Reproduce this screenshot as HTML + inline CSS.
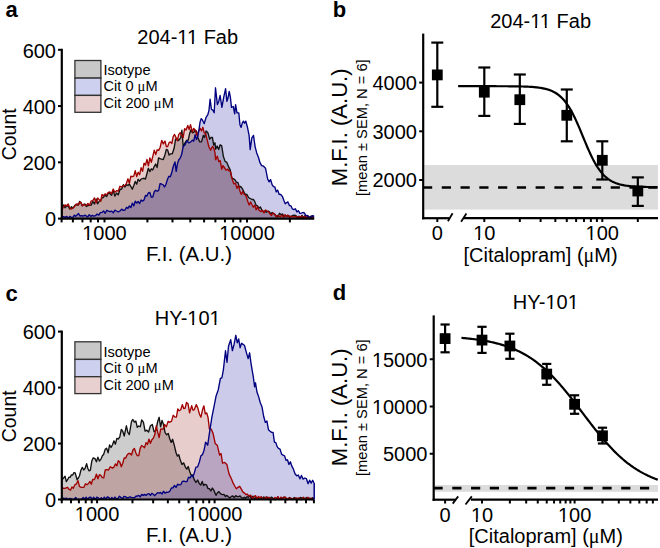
<!DOCTYPE html>
<html><head><meta charset="utf-8"><style>html,body{margin:0;padding:0;background:#fff;overflow:hidden}svg{display:block}</style></head>
<body><svg width="660" height="548" viewBox="0 0 660 548" font-family='"Liberation Sans", sans-serif' fill="#000">
<rect width="660" height="548" fill="#fff"/>
<text x="5.60" y="17.30" font-size="22" text-anchor="start" font-weight="bold" >a</text>
<text x="332.80" y="17.30" font-size="22" text-anchor="start" font-weight="bold" >b</text>
<text x="5.60" y="300.60" font-size="22" text-anchor="start" font-weight="bold" >c</text>
<text x="332.80" y="300.10" font-size="22" text-anchor="start" font-weight="bold" >d</text>
<path d="M62.00,206.50 L63.53,204.87 L65.07,207.77 L66.60,206.00 L68.22,206.11 L69.85,209.08 L71.47,206.75 L73.10,208.00 L74.43,205.73 L75.77,204.68 L77.10,205.00 L78.40,204.94 L79.70,201.35 L81.00,203.00 L82.33,205.89 L83.65,204.34 L84.97,204.03 L86.30,206.50 L87.92,205.58 L89.55,205.37 L91.17,205.14 L92.80,201.50 L94.45,203.94 L96.10,198.98 L97.75,203.74 L99.40,201.00 L100.70,200.37 L102.00,197.81 L103.30,197.50 L104.95,195.01 L106.60,196.64 L108.25,193.11 L109.90,193.50 L111.55,195.36 L113.20,190.35 L114.85,196.10 L116.50,193.00 L118.23,194.89 L119.97,189.52 L121.70,189.00 L123.35,184.69 L125.00,187.00 L126.47,184.62 L127.93,185.49 L129.40,184.10 L130.87,186.55 L132.33,189.23 L133.80,185.50 L135.25,181.47 L136.70,184.15 L138.15,179.30 L139.60,181.10 L141.06,179.11 L142.52,178.72 L143.98,178.27 L145.44,179.13 L146.90,173.80 L148.36,168.29 L149.82,171.57 L151.28,168.89 L152.74,169.93 L154.20,166.50 L155.66,164.00 L157.12,167.43 L158.58,157.87 L160.04,158.69 L161.50,159.20 L163.25,159.56 L165.00,154.70 L166.35,149.39 L167.70,150.10 L169.10,155.08 L170.50,153.80 L172.30,153.71 L174.10,148.30 L175.50,139.54 L176.90,138.30 L178.25,140.66 L179.60,139.20 L180.75,137.65 L181.90,130.10 L183.20,146.50 L185.05,142.75 L186.90,140.10 L188.25,140.14 L189.60,133.70 L191.00,129.77 L192.40,132.80 L193.75,132.28 L195.10,130.10 L196.45,131.00 L197.80,137.40 L199.65,141.79 L201.50,141.90 L203.30,135.50 L204.70,137.31 L206.10,131.00 L207.90,132.80 L209.70,139.20 L211.05,137.50 L212.40,137.40 L213.70,145.05 L215.00,142.80 L215.60,149.30 L217.12,145.94 L218.65,149.45 L220.17,144.80 L221.70,145.80 L223.40,156.59 L225.10,161.40 L226.83,162.39 L228.57,166.67 L230.30,170.10 L231.60,177.43 L232.90,178.70 L234.65,179.33 L236.40,182.20 L237.83,182.50 L239.27,186.81 L240.70,186.50 L242.45,188.91 L244.20,192.60 L245.50,194.72 L246.80,194.30 L248.53,197.54 L250.27,198.51 L252.00,199.50 L253.38,199.34 L254.76,201.63 L256.14,205.26 L257.52,205.79 L258.90,208.20 L260.42,206.90 L261.95,210.35 L263.48,211.73 L265.00,210.90 L266.43,212.29 L267.86,211.16 L269.29,211.73 L270.71,213.92 L272.14,212.54 L273.57,213.52 L275.00,214.50 L276.50,216.50 L278.00,216.76 L279.50,213.32 L281.00,214.75 L282.50,213.94 L284.00,216.73 L285.50,215.17 L287.00,216.39 L288.50,215.67 L290.00,216.50 L291.50,216.32 L293.00,215.37 L294.50,215.12 L296.00,215.68 L297.50,218.14 L299.00,216.24 L300.50,217.92 L302.00,215.39 L303.50,217.75 L305.00,215.64 L306.50,218.54 L308.00,216.78 L309.50,218.60 L311.00,216.02 L312.50,216.06 L314.00,217.50 L314.00,218.60 L62.00,218.60 Z" fill="#000000" fill-opacity="0.196" stroke="none"/>
<path d="M62.00,210.00 L63.53,206.81 L65.07,204.90 L66.60,205.80 L68.22,204.00 L69.85,208.07 L71.47,208.95 L73.10,207.80 L74.43,206.96 L75.77,204.31 L77.10,203.80 L78.40,205.00 L79.70,202.14 L81.00,202.50 L82.33,205.64 L83.65,204.49 L84.97,205.11 L86.30,205.20 L87.92,203.49 L89.55,205.27 L91.17,200.94 L92.80,200.60 L94.45,197.93 L96.10,202.98 L97.75,198.06 L99.40,199.90 L100.70,201.36 L102.00,194.41 L103.30,196.00 L104.95,193.86 L106.60,194.78 L108.25,192.49 L109.90,192.00 L111.55,193.76 L113.20,189.03 L114.85,192.27 L116.50,190.70 L118.23,191.19 L119.97,186.28 L121.70,186.80 L123.35,185.62 L125.00,185.50 L126.46,183.31 L127.92,178.82 L129.38,183.25 L130.84,176.09 L132.30,176.70 L133.78,176.16 L135.25,170.69 L136.72,176.53 L138.20,172.30 L139.66,174.73 L141.12,167.64 L142.58,171.28 L144.04,163.16 L145.50,165.00 L146.96,159.44 L148.42,165.74 L149.88,157.95 L151.34,162.26 L152.80,156.30 L154.26,150.19 L155.72,154.58 L157.18,149.78 L158.64,150.39 L160.10,147.50 L161.73,140.39 L163.37,143.89 L165.00,141.00 L166.35,146.65 L167.70,146.50 L169.10,142.63 L170.50,141.90 L171.85,143.54 L173.20,136.50 L174.55,134.45 L175.90,137.40 L177.30,140.84 L178.70,134.60 L180.20,132.68 L181.70,135.33 L183.20,137.40 L184.60,128.69 L186.00,130.10 L187.80,125.50 L189.15,129.54 L190.50,124.60 L192.40,131.90 L193.75,128.36 L195.10,130.10 L196.95,135.19 L198.80,131.00 L200.15,128.27 L201.50,131.00 L202.85,127.26 L204.20,132.80 L205.60,133.34 L207.00,139.20 L208.80,146.50 L210.60,150.22 L212.40,146.50 L213.70,147.95 L215.00,152.90 L215.60,159.70 L217.30,156.20 L218.77,161.57 L220.23,160.59 L221.70,169.20 L223.00,165.56 L224.30,167.50 L226.00,170.05 L227.70,169.20 L229.17,170.97 L230.63,172.07 L232.10,178.70 L233.80,183.90 L235.50,183.10 L236.97,188.25 L238.43,185.63 L239.90,190.90 L241.33,194.41 L242.77,191.46 L244.20,194.30 L245.95,195.67 L247.70,201.30 L249.13,205.00 L250.57,201.92 L252.00,204.70 L253.38,207.23 L254.76,205.06 L256.14,209.81 L257.52,206.97 L258.90,209.90 L260.70,211.62 L262.50,210.30 L264.00,212.87 L265.50,209.96 L267.00,211.04 L268.50,211.33 L270.00,214.00 L271.48,215.41 L272.96,212.97 L274.44,213.90 L275.92,216.59 L277.40,215.50 L278.90,216.07 L280.40,216.85 L281.90,214.97 L283.40,217.37 L284.90,214.71 L286.40,216.59 L287.90,215.06 L289.40,217.64 L290.90,216.25 L292.40,216.60 L293.94,217.19 L295.49,216.35 L297.03,217.25 L298.57,216.63 L300.11,217.68 L301.66,215.91 L303.20,218.60 L304.74,216.33 L306.29,217.97 L307.83,215.82 L309.37,217.53 L310.91,217.06 L312.46,218.11 L314.00,217.50 L314.00,218.60 L62.00,218.60 Z" fill="#8a0000" fill-opacity="0.196" stroke="none"/>
<path d="M62.00,217.00 L63.57,216.66 L65.14,217.31 L66.71,216.42 L68.29,217.97 L69.86,216.39 L71.43,217.45 L73.00,217.20 L74.33,215.12 L75.67,216.23 L77.00,215.00 L78.50,213.50 L80.00,216.00 L81.50,215.59 L83.00,216.07 L84.50,215.24 L86.00,215.70 L87.58,217.08 L89.17,214.67 L90.75,216.42 L92.33,215.44 L93.92,216.17 L95.50,215.70 L97.12,214.04 L98.75,215.16 L100.38,212.55 L102.00,212.40 L103.60,210.88 L105.20,213.29 L106.80,210.28 L108.40,211.15 L110.00,211.70 L111.62,211.12 L113.25,212.88 L114.88,210.11 L116.50,211.00 L118.23,211.78 L119.97,211.00 L121.70,209.10 L123.35,210.34 L125.00,210.00 L126.47,207.29 L127.93,208.39 L129.40,205.90 L130.86,207.51 L132.32,203.11 L133.78,205.89 L135.24,201.20 L136.70,203.00 L138.16,201.52 L139.62,203.55 L141.08,199.90 L142.54,201.12 L144.00,200.00 L145.47,195.47 L146.93,196.10 L148.40,192.80 L149.85,192.51 L151.30,197.20 L152.78,197.13 L154.25,191.70 L155.72,190.22 L157.20,191.30 L158.63,190.32 L160.07,183.59 L161.50,184.00 L163.00,184.74 L164.50,187.00 L165.95,184.32 L167.40,179.60 L168.85,176.28 L170.30,176.70 L171.75,172.85 L173.20,166.50 L175.00,162.00 L176.20,171.40 L177.45,163.84 L178.70,160.00 L180.20,158.07 L181.70,154.14 L183.20,146.50 L185.10,144.70 L186.90,140.77 L188.70,142.80 L190.55,142.14 L192.40,140.10 L193.75,141.14 L195.10,134.60 L196.45,139.45 L197.80,136.50 L199.20,128.20 L200.10,121.90 L201.25,118.59 L202.40,120.00 L204.20,123.70 L206.10,117.30 L207.80,114.70 L208.95,110.62 L210.10,99.20 L211.40,109.20 L212.80,110.14 L214.20,112.80 L215.50,87.80 L217.40,104.60 L218.75,101.43 L220.10,95.50 L221.90,107.40 L223.75,97.21 L225.60,88.70 L226.90,101.40 L228.05,97.75 L229.20,91.40 L230.35,96.99 L231.50,107.40 L233.30,106.50 L234.70,113.80 L235.60,104.60 L237.00,112.80 L238.80,112.80 L239.95,124.68 L241.10,127.40 L242.25,123.07 L243.40,121.10 L244.60,123.22 L245.80,121.10 L247.45,127.21 L249.10,135.40 L250.20,149.60 L251.85,137.94 L253.50,135.40 L255.10,146.58 L256.70,152.90 L258.35,157.00 L260.00,162.70 L261.65,165.68 L263.30,166.00 L265.50,168.20 L267.70,179.20 L269.17,181.83 L270.63,179.64 L272.10,184.60 L273.48,186.71 L274.85,186.96 L276.23,191.74 L277.60,190.10 L279.20,194.43 L280.80,194.50 L282.45,196.60 L284.10,201.00 L285.25,203.87 L286.40,202.80 L287.90,201.89 L289.40,205.50 L290.90,205.80 L292.40,208.99 L293.90,209.59 L295.40,208.80 L296.90,211.85 L298.40,210.71 L299.90,213.30 L301.40,213.13 L302.90,212.50 L304.37,212.86 L305.83,215.76 L307.30,215.50 L308.66,216.49 L310.02,217.44 L311.38,216.68 L312.74,215.65 L314.10,216.30 L314.10,218.60 L62.00,218.60 Z" fill="#000096" fill-opacity="0.2" stroke="none"/>
<path d="M62.00,206.50 L63.53,204.87 L65.07,207.77 L66.60,206.00 L68.22,206.11 L69.85,209.08 L71.47,206.75 L73.10,208.00 L74.43,205.73 L75.77,204.68 L77.10,205.00 L78.40,204.94 L79.70,201.35 L81.00,203.00 L82.33,205.89 L83.65,204.34 L84.97,204.03 L86.30,206.50 L87.92,205.58 L89.55,205.37 L91.17,205.14 L92.80,201.50 L94.45,203.94 L96.10,198.98 L97.75,203.74 L99.40,201.00 L100.70,200.37 L102.00,197.81 L103.30,197.50 L104.95,195.01 L106.60,196.64 L108.25,193.11 L109.90,193.50 L111.55,195.36 L113.20,190.35 L114.85,196.10 L116.50,193.00 L118.23,194.89 L119.97,189.52 L121.70,189.00 L123.35,184.69 L125.00,187.00 L126.47,184.62 L127.93,185.49 L129.40,184.10 L130.87,186.55 L132.33,189.23 L133.80,185.50 L135.25,181.47 L136.70,184.15 L138.15,179.30 L139.60,181.10 L141.06,179.11 L142.52,178.72 L143.98,178.27 L145.44,179.13 L146.90,173.80 L148.36,168.29 L149.82,171.57 L151.28,168.89 L152.74,169.93 L154.20,166.50 L155.66,164.00 L157.12,167.43 L158.58,157.87 L160.04,158.69 L161.50,159.20 L163.25,159.56 L165.00,154.70 L166.35,149.39 L167.70,150.10 L169.10,155.08 L170.50,153.80 L172.30,153.71 L174.10,148.30 L175.50,139.54 L176.90,138.30 L178.25,140.66 L179.60,139.20 L180.75,137.65 L181.90,130.10 L183.20,146.50 L185.05,142.75 L186.90,140.10 L188.25,140.14 L189.60,133.70 L191.00,129.77 L192.40,132.80 L193.75,132.28 L195.10,130.10 L196.45,131.00 L197.80,137.40 L199.65,141.79 L201.50,141.90 L203.30,135.50 L204.70,137.31 L206.10,131.00 L207.90,132.80 L209.70,139.20 L211.05,137.50 L212.40,137.40 L213.70,145.05 L215.00,142.80 L215.60,149.30 L217.12,145.94 L218.65,149.45 L220.17,144.80 L221.70,145.80 L223.40,156.59 L225.10,161.40 L226.83,162.39 L228.57,166.67 L230.30,170.10 L231.60,177.43 L232.90,178.70 L234.65,179.33 L236.40,182.20 L237.83,182.50 L239.27,186.81 L240.70,186.50 L242.45,188.91 L244.20,192.60 L245.50,194.72 L246.80,194.30 L248.53,197.54 L250.27,198.51 L252.00,199.50 L253.38,199.34 L254.76,201.63 L256.14,205.26 L257.52,205.79 L258.90,208.20 L260.42,206.90 L261.95,210.35 L263.48,211.73 L265.00,210.90 L266.43,212.29 L267.86,211.16 L269.29,211.73 L270.71,213.92 L272.14,212.54 L273.57,213.52 L275.00,214.50 L276.50,216.50 L278.00,216.76 L279.50,213.32 L281.00,214.75 L282.50,213.94 L284.00,216.73 L285.50,215.17 L287.00,216.39 L288.50,215.67 L290.00,216.50 L291.50,216.32 L293.00,215.37 L294.50,215.12 L296.00,215.68 L297.50,218.14 L299.00,216.24 L300.50,217.92 L302.00,215.39 L303.50,217.75 L305.00,215.64 L306.50,218.54 L308.00,216.78 L309.50,218.60 L311.00,216.02 L312.50,216.06 L314.00,217.50" fill="none" stroke="#111" stroke-width="1.35" stroke-linejoin="round"/>
<path d="M62.00,210.00 L63.53,206.81 L65.07,204.90 L66.60,205.80 L68.22,204.00 L69.85,208.07 L71.47,208.95 L73.10,207.80 L74.43,206.96 L75.77,204.31 L77.10,203.80 L78.40,205.00 L79.70,202.14 L81.00,202.50 L82.33,205.64 L83.65,204.49 L84.97,205.11 L86.30,205.20 L87.92,203.49 L89.55,205.27 L91.17,200.94 L92.80,200.60 L94.45,197.93 L96.10,202.98 L97.75,198.06 L99.40,199.90 L100.70,201.36 L102.00,194.41 L103.30,196.00 L104.95,193.86 L106.60,194.78 L108.25,192.49 L109.90,192.00 L111.55,193.76 L113.20,189.03 L114.85,192.27 L116.50,190.70 L118.23,191.19 L119.97,186.28 L121.70,186.80 L123.35,185.62 L125.00,185.50 L126.46,183.31 L127.92,178.82 L129.38,183.25 L130.84,176.09 L132.30,176.70 L133.78,176.16 L135.25,170.69 L136.72,176.53 L138.20,172.30 L139.66,174.73 L141.12,167.64 L142.58,171.28 L144.04,163.16 L145.50,165.00 L146.96,159.44 L148.42,165.74 L149.88,157.95 L151.34,162.26 L152.80,156.30 L154.26,150.19 L155.72,154.58 L157.18,149.78 L158.64,150.39 L160.10,147.50 L161.73,140.39 L163.37,143.89 L165.00,141.00 L166.35,146.65 L167.70,146.50 L169.10,142.63 L170.50,141.90 L171.85,143.54 L173.20,136.50 L174.55,134.45 L175.90,137.40 L177.30,140.84 L178.70,134.60 L180.20,132.68 L181.70,135.33 L183.20,137.40 L184.60,128.69 L186.00,130.10 L187.80,125.50 L189.15,129.54 L190.50,124.60 L192.40,131.90 L193.75,128.36 L195.10,130.10 L196.95,135.19 L198.80,131.00 L200.15,128.27 L201.50,131.00 L202.85,127.26 L204.20,132.80 L205.60,133.34 L207.00,139.20 L208.80,146.50 L210.60,150.22 L212.40,146.50 L213.70,147.95 L215.00,152.90 L215.60,159.70 L217.30,156.20 L218.77,161.57 L220.23,160.59 L221.70,169.20 L223.00,165.56 L224.30,167.50 L226.00,170.05 L227.70,169.20 L229.17,170.97 L230.63,172.07 L232.10,178.70 L233.80,183.90 L235.50,183.10 L236.97,188.25 L238.43,185.63 L239.90,190.90 L241.33,194.41 L242.77,191.46 L244.20,194.30 L245.95,195.67 L247.70,201.30 L249.13,205.00 L250.57,201.92 L252.00,204.70 L253.38,207.23 L254.76,205.06 L256.14,209.81 L257.52,206.97 L258.90,209.90 L260.70,211.62 L262.50,210.30 L264.00,212.87 L265.50,209.96 L267.00,211.04 L268.50,211.33 L270.00,214.00 L271.48,215.41 L272.96,212.97 L274.44,213.90 L275.92,216.59 L277.40,215.50 L278.90,216.07 L280.40,216.85 L281.90,214.97 L283.40,217.37 L284.90,214.71 L286.40,216.59 L287.90,215.06 L289.40,217.64 L290.90,216.25 L292.40,216.60 L293.94,217.19 L295.49,216.35 L297.03,217.25 L298.57,216.63 L300.11,217.68 L301.66,215.91 L303.20,218.60 L304.74,216.33 L306.29,217.97 L307.83,215.82 L309.37,217.53 L310.91,217.06 L312.46,218.11 L314.00,217.50" fill="none" stroke="#a00000" stroke-width="1.35" stroke-linejoin="round"/>
<path d="M62.00,217.00 L63.57,216.66 L65.14,217.31 L66.71,216.42 L68.29,217.97 L69.86,216.39 L71.43,217.45 L73.00,217.20 L74.33,215.12 L75.67,216.23 L77.00,215.00 L78.50,213.50 L80.00,216.00 L81.50,215.59 L83.00,216.07 L84.50,215.24 L86.00,215.70 L87.58,217.08 L89.17,214.67 L90.75,216.42 L92.33,215.44 L93.92,216.17 L95.50,215.70 L97.12,214.04 L98.75,215.16 L100.38,212.55 L102.00,212.40 L103.60,210.88 L105.20,213.29 L106.80,210.28 L108.40,211.15 L110.00,211.70 L111.62,211.12 L113.25,212.88 L114.88,210.11 L116.50,211.00 L118.23,211.78 L119.97,211.00 L121.70,209.10 L123.35,210.34 L125.00,210.00 L126.47,207.29 L127.93,208.39 L129.40,205.90 L130.86,207.51 L132.32,203.11 L133.78,205.89 L135.24,201.20 L136.70,203.00 L138.16,201.52 L139.62,203.55 L141.08,199.90 L142.54,201.12 L144.00,200.00 L145.47,195.47 L146.93,196.10 L148.40,192.80 L149.85,192.51 L151.30,197.20 L152.78,197.13 L154.25,191.70 L155.72,190.22 L157.20,191.30 L158.63,190.32 L160.07,183.59 L161.50,184.00 L163.00,184.74 L164.50,187.00 L165.95,184.32 L167.40,179.60 L168.85,176.28 L170.30,176.70 L171.75,172.85 L173.20,166.50 L175.00,162.00 L176.20,171.40 L177.45,163.84 L178.70,160.00 L180.20,158.07 L181.70,154.14 L183.20,146.50 L185.10,144.70 L186.90,140.77 L188.70,142.80 L190.55,142.14 L192.40,140.10 L193.75,141.14 L195.10,134.60 L196.45,139.45 L197.80,136.50 L199.20,128.20 L200.10,121.90 L201.25,118.59 L202.40,120.00 L204.20,123.70 L206.10,117.30 L207.80,114.70 L208.95,110.62 L210.10,99.20 L211.40,109.20 L212.80,110.14 L214.20,112.80 L215.50,87.80 L217.40,104.60 L218.75,101.43 L220.10,95.50 L221.90,107.40 L223.75,97.21 L225.60,88.70 L226.90,101.40 L228.05,97.75 L229.20,91.40 L230.35,96.99 L231.50,107.40 L233.30,106.50 L234.70,113.80 L235.60,104.60 L237.00,112.80 L238.80,112.80 L239.95,124.68 L241.10,127.40 L242.25,123.07 L243.40,121.10 L244.60,123.22 L245.80,121.10 L247.45,127.21 L249.10,135.40 L250.20,149.60 L251.85,137.94 L253.50,135.40 L255.10,146.58 L256.70,152.90 L258.35,157.00 L260.00,162.70 L261.65,165.68 L263.30,166.00 L265.50,168.20 L267.70,179.20 L269.17,181.83 L270.63,179.64 L272.10,184.60 L273.48,186.71 L274.85,186.96 L276.23,191.74 L277.60,190.10 L279.20,194.43 L280.80,194.50 L282.45,196.60 L284.10,201.00 L285.25,203.87 L286.40,202.80 L287.90,201.89 L289.40,205.50 L290.90,205.80 L292.40,208.99 L293.90,209.59 L295.40,208.80 L296.90,211.85 L298.40,210.71 L299.90,213.30 L301.40,213.13 L302.90,212.50 L304.37,212.86 L305.83,215.76 L307.30,215.50 L308.66,216.49 L310.02,217.44 L311.38,216.68 L312.74,215.65 L314.10,216.30" fill="none" stroke="#000080" stroke-width="1.35" stroke-linejoin="round"/>
<line x1="61.80" y1="48.80" x2="61.80" y2="219.60" stroke="#000" stroke-width="2.2" />
<line x1="60.70" y1="218.60" x2="314.20" y2="218.60" stroke="#000" stroke-width="2.2" />
<line x1="58.00" y1="218.60" x2="61.80" y2="218.60" stroke="#000" stroke-width="2" />
<text x="56.00" y="226.40" font-size="20" text-anchor="end" font-weight="normal" >0</text>
<line x1="58.00" y1="162.33" x2="61.80" y2="162.33" stroke="#000" stroke-width="2" />
<text x="56.00" y="170.13" font-size="20" text-anchor="end" font-weight="normal" >200</text>
<line x1="58.00" y1="106.07" x2="61.80" y2="106.07" stroke="#000" stroke-width="2" />
<text x="56.00" y="113.87" font-size="20" text-anchor="end" font-weight="normal" >400</text>
<line x1="58.00" y1="49.80" x2="61.80" y2="49.80" stroke="#000" stroke-width="2" />
<text x="56.00" y="57.60" font-size="20" text-anchor="end" font-weight="normal" >600</text>
<line x1="61.60" y1="218.60" x2="61.60" y2="222.40" stroke="#000" stroke-width="2" />
<line x1="72.89" y1="218.60" x2="72.89" y2="222.40" stroke="#000" stroke-width="2" />
<line x1="82.43" y1="218.60" x2="82.43" y2="222.40" stroke="#000" stroke-width="2" />
<line x1="90.69" y1="218.60" x2="90.69" y2="222.40" stroke="#000" stroke-width="2" />
<line x1="97.98" y1="218.60" x2="97.98" y2="222.40" stroke="#000" stroke-width="2" />
<line x1="104.50" y1="218.60" x2="104.50" y2="222.40" stroke="#000" stroke-width="2" />
<line x1="147.40" y1="218.60" x2="147.40" y2="222.40" stroke="#000" stroke-width="2" />
<line x1="172.49" y1="218.60" x2="172.49" y2="222.40" stroke="#000" stroke-width="2" />
<line x1="190.29" y1="218.60" x2="190.29" y2="222.40" stroke="#000" stroke-width="2" />
<line x1="204.10" y1="218.60" x2="204.10" y2="222.40" stroke="#000" stroke-width="2" />
<line x1="215.39" y1="218.60" x2="215.39" y2="222.40" stroke="#000" stroke-width="2" />
<line x1="224.93" y1="218.60" x2="224.93" y2="222.40" stroke="#000" stroke-width="2" />
<line x1="233.19" y1="218.60" x2="233.19" y2="222.40" stroke="#000" stroke-width="2" />
<line x1="240.48" y1="218.60" x2="240.48" y2="222.40" stroke="#000" stroke-width="2" />
<line x1="247.00" y1="218.60" x2="247.00" y2="222.40" stroke="#000" stroke-width="2" />
<line x1="289.90" y1="218.60" x2="289.90" y2="222.40" stroke="#000" stroke-width="2" />
<text x="104.50" y="240.10" font-size="20" text-anchor="middle" font-weight="normal" >1000</text>
<text x="247.00" y="240.10" font-size="20" text-anchor="middle" font-weight="normal" >10000</text>
<text x="189.00" y="260.60" font-size="20.4" text-anchor="middle" font-weight="normal" >F.I. (A.U.)</text>
<text x="187.70" y="44.30" font-size="20" text-anchor="middle" font-weight="normal" >204-11 Fab</text>
<text x="0" y="0" font-size="19.5" text-anchor="middle" transform="translate(15.6,134.30) rotate(-90)">Count</text>
<rect x="74.9" y="60.50" width="26.00" height="17.60" fill="#c8c8c8" stroke="#333" stroke-width="1.3"/>
<rect x="74.9" y="78.10" width="26.00" height="17.30" fill="#cdd0ee" stroke="#333" stroke-width="1.3"/>
<rect x="74.9" y="95.40" width="26.00" height="16.90" fill="#e8cfd0" stroke="#333" stroke-width="1.3"/>
<text x="103.50" y="74.80" font-size="14.6" text-anchor="start" font-weight="normal" >Isotype</text>
<text x="103.50" y="90.60" font-size="14.6" text-anchor="start" font-weight="normal" >Cit 0 <tspan font-family="Liberation Serif">&#956;</tspan>M</text>
<text x="103.50" y="108.20" font-size="14.6" text-anchor="start" font-weight="normal" >Cit 200 <tspan font-family="Liberation Serif">&#956;</tspan>M</text>
<path d="M62.00,479.70 L63.80,477.80 L65.07,476.31 L66.33,481.60 L67.60,479.70 L68.87,477.18 L70.13,477.43 L71.40,474.90 L72.67,474.96 L73.93,472.70 L75.20,473.00 L77.10,479.70 L78.37,478.03 L79.63,475.45 L80.90,470.20 L82.33,467.35 L83.75,470.00 L85.17,468.20 L86.60,463.60 L87.87,468.54 L89.13,470.82 L90.40,470.20 L91.80,460.91 L93.20,457.90 L95.00,458.60 L96.45,461.79 L97.90,457.14 L99.35,461.06 L100.80,459.40 L102.25,456.05 L103.70,454.30 L105.17,449.38 L106.63,448.15 L108.10,452.79 L109.57,444.96 L111.03,447.50 L112.50,444.80 L113.95,440.84 L115.40,444.19 L116.85,438.40 L118.30,439.00 L119.80,436.80 L121.30,429.50 L122.75,431.27 L124.20,436.00 L126.40,425.80 L127.85,432.28 L129.30,434.60 L131.50,421.50 L132.95,419.48 L134.40,422.14 L135.85,421.18 L137.30,427.30 L138.77,426.00 L140.23,426.77 L141.70,420.00 L143.40,422.17 L145.10,431.15 L146.80,430.20 L148.60,432.04 L150.40,425.80 L152.25,424.51 L154.10,431.70 L155.90,430.28 L157.70,421.50 L159.15,417.28 L160.60,426.75 L162.05,420.37 L163.50,424.40 L165.10,432.67 L166.70,434.80 L168.25,433.41 L169.80,439.00 L171.20,442.38 L172.60,439.29 L174.00,444.20 L176.00,452.50 L177.40,456.14 L178.80,454.72 L180.20,459.80 L181.93,464.41 L183.67,462.88 L185.40,467.10 L186.80,469.13 L188.20,466.53 L189.60,471.30 L191.13,475.25 L192.67,474.89 L194.20,479.60 L195.93,482.48 L197.67,480.05 L199.40,483.80 L200.80,485.00 L202.20,481.46 L203.60,485.57 L205.00,484.30 L206.47,484.83 L207.93,488.60 L209.40,488.70 L210.87,491.00 L212.33,488.04 L213.80,490.20 L216.00,495.30 L217.45,492.76 L218.90,491.60 L220.70,493.98 L222.50,494.60 L223.97,494.46 L225.45,496.49 L226.93,495.41 L228.40,496.80 L229.86,498.11 L231.32,496.41 L232.79,496.00 L234.25,497.50 L235.71,495.64 L237.18,496.61 L238.64,496.47 L240.10,496.00 L241.55,497.63 L243.00,498.20 L244.32,497.21 L245.65,498.12 L246.98,496.66 L248.30,497.30 L249.85,495.65 L251.40,498.48 L252.95,496.13 L254.50,499.20 L256.05,497.36 L257.60,498.37 L259.15,498.30 L260.70,497.25 L262.25,499.46 L263.80,496.90 L265.35,499.50 L266.90,496.78 L268.45,499.44 L270.00,498.50 L271.52,497.11 L273.03,498.20 L274.55,499.50 L276.07,499.50 L277.59,497.00 L279.10,498.90 L280.62,498.41 L282.14,498.32 L283.66,497.22 L285.17,497.32 L286.69,499.50 L288.21,499.50 L289.72,497.44 L291.24,499.36 L292.76,499.50 L294.28,497.47 L295.79,498.96 L297.31,498.27 L298.83,499.50 L300.34,497.45 L301.86,498.10 L303.38,497.61 L304.90,499.44 L306.41,497.44 L307.93,499.37 L309.45,498.10 L310.97,499.50 L312.48,497.64 L314.00,499.00 L314.00,499.50 L62.00,499.50 Z" fill="#000000" fill-opacity="0.196" stroke="none"/>
<path d="M62.00,488.20 L63.40,488.24 L64.80,488.34 L66.20,487.81 L67.60,487.30 L69.02,489.28 L70.45,490.19 L71.88,486.99 L73.30,488.20 L74.87,484.76 L76.43,483.96 L78.00,480.60 L79.45,486.32 L80.90,487.30 L82.42,487.30 L83.94,487.22 L85.46,483.69 L86.98,484.71 L88.50,483.50 L89.90,481.39 L91.30,484.22 L92.70,479.33 L94.10,479.70 L95.00,478.30 L96.47,474.08 L97.93,478.84 L99.40,474.70 L100.85,475.45 L102.30,477.60 L103.77,477.90 L105.23,469.83 L106.70,469.60 L108.50,470.03 L110.30,466.70 L112.50,468.10 L113.95,466.95 L115.40,463.94 L116.85,465.78 L118.30,460.80 L119.80,462.07 L121.30,466.70 L122.75,463.27 L124.20,457.90 L125.65,458.09 L127.10,455.00 L128.57,453.49 L130.03,453.46 L131.50,455.00 L132.95,450.05 L134.40,448.40 L135.85,452.73 L137.30,455.70 L138.77,455.64 L140.23,448.04 L141.70,445.50 L143.13,446.45 L144.57,447.68 L146.00,442.60 L147.47,444.42 L148.93,439.07 L150.40,443.30 L151.85,439.66 L153.30,438.20 L154.80,434.55 L156.30,425.80 L157.75,432.31 L159.20,437.50 L160.65,429.07 L162.10,428.80 L163.35,429.15 L164.60,424.40 L166.33,426.89 L168.07,421.33 L169.80,422.30 L171.53,421.12 L173.27,415.29 L175.00,417.10 L176.40,417.18 L177.80,408.97 L179.20,410.80 L180.75,409.79 L182.30,404.60 L183.70,408.49 L185.10,408.27 L186.50,402.50 L188.05,403.84 L189.60,412.90 L191.70,405.60 L192.95,410.17 L194.20,409.80 L196.30,404.60 L197.85,408.05 L199.40,414.00 L200.95,417.21 L202.50,409.80 L203.90,405.85 L205.30,413.93 L206.70,412.90 L208.05,417.55 L209.40,428.80 L211.20,429.05 L213.00,433.20 L215.20,443.40 L217.40,445.60 L219.60,455.10 L221.10,453.60 L222.50,463.10 L224.70,462.40 L226.90,464.60 L229.10,474.10 L231.30,478.50 L233.15,483.20 L235.00,486.50 L236.45,488.79 L237.90,487.30 L239.70,486.30 L241.50,489.40 L243.00,492.14 L244.50,493.10 L245.97,494.50 L247.43,494.24 L248.90,496.00 L250.60,495.17 L252.30,498.20 L254.00,496.80 L255.50,495.64 L257.00,498.76 L258.50,496.43 L260.00,497.90 L261.50,496.76 L263.00,498.97 L264.50,498.72 L266.00,497.00 L267.50,498.40 L269.00,497.20 L270.50,499.35 L272.00,498.82 L273.50,499.50 L275.00,497.42 L276.50,498.59 L278.00,496.59 L279.50,499.50 L281.00,496.98 L282.50,499.48 L284.00,497.20 L285.50,497.17 L287.00,499.50 L288.50,498.07 L290.00,498.50 L291.50,498.28 L293.00,499.35 L294.50,499.31 L296.00,497.72 L297.50,499.50 L299.00,497.65 L300.50,499.50 L302.00,499.50 L303.50,497.23 L305.00,499.46 L306.50,499.25 L308.00,497.27 L309.50,499.50 L311.00,498.12 L312.50,499.50 L314.00,499.00 L314.00,499.50 L62.00,499.50 Z" fill="#8a0000" fill-opacity="0.196" stroke="none"/>
<path d="M62.00,499.30 L63.51,498.07 L65.02,498.70 L66.53,498.12 L68.05,499.42 L69.56,498.45 L71.07,498.58 L72.58,499.50 L74.09,499.50 L75.60,497.47 L77.11,499.50 L78.62,499.20 L80.14,499.50 L81.65,499.20 L83.16,497.40 L84.67,499.25 L86.18,497.24 L87.69,499.50 L89.20,497.32 L90.72,497.13 L92.23,499.13 L93.74,497.27 L95.25,499.50 L96.76,497.15 L98.27,497.84 L99.78,499.50 L101.30,497.59 L102.81,499.43 L104.32,497.17 L105.83,499.03 L107.34,497.01 L108.85,497.44 L110.36,499.41 L111.88,497.42 L113.39,499.11 L114.90,497.06 L116.41,498.87 L117.92,498.38 L119.43,496.20 L120.94,497.52 L122.45,498.79 L123.97,496.43 L125.48,496.59 L126.99,497.98 L128.50,497.50 L129.97,496.82 L131.44,497.37 L132.91,497.56 L134.39,497.85 L135.86,496.25 L137.33,496.02 L138.80,495.40 L140.25,496.77 L141.70,494.35 L143.15,495.35 L144.60,494.36 L146.05,495.40 L147.50,494.03 L148.95,493.59 L150.40,495.41 L151.85,493.30 L153.30,494.20 L154.76,495.65 L156.22,494.09 L157.68,492.67 L159.14,493.08 L160.60,492.50 L162.07,493.91 L163.53,491.24 L165.00,493.20 L166.70,492.10 L168.25,492.31 L169.80,491.26 L171.35,488.02 L172.90,487.90 L174.47,485.37 L176.05,487.32 L177.62,484.25 L179.20,484.80 L180.75,484.69 L182.30,481.44 L183.85,481.21 L185.40,481.70 L186.97,481.57 L188.55,477.13 L190.12,477.91 L191.70,475.40 L192.95,476.78 L194.20,473.30 L195.93,467.11 L197.67,466.80 L199.40,461.90 L200.95,455.69 L202.50,454.60 L204.05,450.37 L205.60,442.10 L207.70,445.20 L209.80,430.60 L211.90,417.10 L214.00,406.70 L216.00,396.30 L218.20,390.00 L220.40,378.40 L221.90,377.76 L223.40,369.60 L225.50,350.70 L227.00,362.30 L228.50,346.30 L230.70,339.70 L232.40,350.70 L234.10,344.21 L235.80,335.30 L237.25,342.72 L238.70,339.00 L240.10,347.70 L241.57,343.27 L243.03,344.33 L244.50,345.50 L246.70,353.60 L248.15,358.58 L249.60,352.80 L251.10,363.80 L253.30,376.90 L254.60,386.80 L255.50,382.80 L256.95,391.99 L258.40,395.90 L260.30,402.80 L262.00,406.76 L263.70,416.50 L265.30,422.42 L266.90,420.96 L268.50,429.82 L270.10,431.28 L271.70,432.40 L273.06,432.31 L274.42,442.04 L275.78,442.53 L277.14,446.61 L278.50,448.40 L280.03,449.16 L281.57,454.11 L283.10,455.20 L284.56,455.90 L286.01,460.24 L287.47,459.78 L288.93,464.46 L290.39,461.77 L291.84,466.19 L293.30,468.90 L295.00,473.81 L296.70,475.80 L298.30,474.98 L299.90,478.86 L301.50,475.46 L303.10,479.15 L304.70,478.00 L306.40,478.73 L308.10,483.70 L309.63,480.17 L311.17,483.11 L312.70,480.30 L314.00,483.00 L314.00,499.50 L62.00,499.50 Z" fill="#000096" fill-opacity="0.2" stroke="none"/>
<path d="M62.00,479.70 L63.80,477.80 L65.07,476.31 L66.33,481.60 L67.60,479.70 L68.87,477.18 L70.13,477.43 L71.40,474.90 L72.67,474.96 L73.93,472.70 L75.20,473.00 L77.10,479.70 L78.37,478.03 L79.63,475.45 L80.90,470.20 L82.33,467.35 L83.75,470.00 L85.17,468.20 L86.60,463.60 L87.87,468.54 L89.13,470.82 L90.40,470.20 L91.80,460.91 L93.20,457.90 L95.00,458.60 L96.45,461.79 L97.90,457.14 L99.35,461.06 L100.80,459.40 L102.25,456.05 L103.70,454.30 L105.17,449.38 L106.63,448.15 L108.10,452.79 L109.57,444.96 L111.03,447.50 L112.50,444.80 L113.95,440.84 L115.40,444.19 L116.85,438.40 L118.30,439.00 L119.80,436.80 L121.30,429.50 L122.75,431.27 L124.20,436.00 L126.40,425.80 L127.85,432.28 L129.30,434.60 L131.50,421.50 L132.95,419.48 L134.40,422.14 L135.85,421.18 L137.30,427.30 L138.77,426.00 L140.23,426.77 L141.70,420.00 L143.40,422.17 L145.10,431.15 L146.80,430.20 L148.60,432.04 L150.40,425.80 L152.25,424.51 L154.10,431.70 L155.90,430.28 L157.70,421.50 L159.15,417.28 L160.60,426.75 L162.05,420.37 L163.50,424.40 L165.10,432.67 L166.70,434.80 L168.25,433.41 L169.80,439.00 L171.20,442.38 L172.60,439.29 L174.00,444.20 L176.00,452.50 L177.40,456.14 L178.80,454.72 L180.20,459.80 L181.93,464.41 L183.67,462.88 L185.40,467.10 L186.80,469.13 L188.20,466.53 L189.60,471.30 L191.13,475.25 L192.67,474.89 L194.20,479.60 L195.93,482.48 L197.67,480.05 L199.40,483.80 L200.80,485.00 L202.20,481.46 L203.60,485.57 L205.00,484.30 L206.47,484.83 L207.93,488.60 L209.40,488.70 L210.87,491.00 L212.33,488.04 L213.80,490.20 L216.00,495.30 L217.45,492.76 L218.90,491.60 L220.70,493.98 L222.50,494.60 L223.97,494.46 L225.45,496.49 L226.93,495.41 L228.40,496.80 L229.86,498.11 L231.32,496.41 L232.79,496.00 L234.25,497.50 L235.71,495.64 L237.18,496.61 L238.64,496.47 L240.10,496.00 L241.55,497.63 L243.00,498.20 L244.32,497.21 L245.65,498.12 L246.98,496.66 L248.30,497.30 L249.85,495.65 L251.40,498.48 L252.95,496.13 L254.50,499.20 L256.05,497.36 L257.60,498.37 L259.15,498.30 L260.70,497.25 L262.25,499.46 L263.80,496.90 L265.35,499.50 L266.90,496.78 L268.45,499.44 L270.00,498.50 L271.52,497.11 L273.03,498.20 L274.55,499.50 L276.07,499.50 L277.59,497.00 L279.10,498.90 L280.62,498.41 L282.14,498.32 L283.66,497.22 L285.17,497.32 L286.69,499.50 L288.21,499.50 L289.72,497.44 L291.24,499.36 L292.76,499.50 L294.28,497.47 L295.79,498.96 L297.31,498.27 L298.83,499.50 L300.34,497.45 L301.86,498.10 L303.38,497.61 L304.90,499.44 L306.41,497.44 L307.93,499.37 L309.45,498.10 L310.97,499.50 L312.48,497.64 L314.00,499.00" fill="none" stroke="#111" stroke-width="1.35" stroke-linejoin="round"/>
<path d="M62.00,488.20 L63.40,488.24 L64.80,488.34 L66.20,487.81 L67.60,487.30 L69.02,489.28 L70.45,490.19 L71.88,486.99 L73.30,488.20 L74.87,484.76 L76.43,483.96 L78.00,480.60 L79.45,486.32 L80.90,487.30 L82.42,487.30 L83.94,487.22 L85.46,483.69 L86.98,484.71 L88.50,483.50 L89.90,481.39 L91.30,484.22 L92.70,479.33 L94.10,479.70 L95.00,478.30 L96.47,474.08 L97.93,478.84 L99.40,474.70 L100.85,475.45 L102.30,477.60 L103.77,477.90 L105.23,469.83 L106.70,469.60 L108.50,470.03 L110.30,466.70 L112.50,468.10 L113.95,466.95 L115.40,463.94 L116.85,465.78 L118.30,460.80 L119.80,462.07 L121.30,466.70 L122.75,463.27 L124.20,457.90 L125.65,458.09 L127.10,455.00 L128.57,453.49 L130.03,453.46 L131.50,455.00 L132.95,450.05 L134.40,448.40 L135.85,452.73 L137.30,455.70 L138.77,455.64 L140.23,448.04 L141.70,445.50 L143.13,446.45 L144.57,447.68 L146.00,442.60 L147.47,444.42 L148.93,439.07 L150.40,443.30 L151.85,439.66 L153.30,438.20 L154.80,434.55 L156.30,425.80 L157.75,432.31 L159.20,437.50 L160.65,429.07 L162.10,428.80 L163.35,429.15 L164.60,424.40 L166.33,426.89 L168.07,421.33 L169.80,422.30 L171.53,421.12 L173.27,415.29 L175.00,417.10 L176.40,417.18 L177.80,408.97 L179.20,410.80 L180.75,409.79 L182.30,404.60 L183.70,408.49 L185.10,408.27 L186.50,402.50 L188.05,403.84 L189.60,412.90 L191.70,405.60 L192.95,410.17 L194.20,409.80 L196.30,404.60 L197.85,408.05 L199.40,414.00 L200.95,417.21 L202.50,409.80 L203.90,405.85 L205.30,413.93 L206.70,412.90 L208.05,417.55 L209.40,428.80 L211.20,429.05 L213.00,433.20 L215.20,443.40 L217.40,445.60 L219.60,455.10 L221.10,453.60 L222.50,463.10 L224.70,462.40 L226.90,464.60 L229.10,474.10 L231.30,478.50 L233.15,483.20 L235.00,486.50 L236.45,488.79 L237.90,487.30 L239.70,486.30 L241.50,489.40 L243.00,492.14 L244.50,493.10 L245.97,494.50 L247.43,494.24 L248.90,496.00 L250.60,495.17 L252.30,498.20 L254.00,496.80 L255.50,495.64 L257.00,498.76 L258.50,496.43 L260.00,497.90 L261.50,496.76 L263.00,498.97 L264.50,498.72 L266.00,497.00 L267.50,498.40 L269.00,497.20 L270.50,499.35 L272.00,498.82 L273.50,499.50 L275.00,497.42 L276.50,498.59 L278.00,496.59 L279.50,499.50 L281.00,496.98 L282.50,499.48 L284.00,497.20 L285.50,497.17 L287.00,499.50 L288.50,498.07 L290.00,498.50 L291.50,498.28 L293.00,499.35 L294.50,499.31 L296.00,497.72 L297.50,499.50 L299.00,497.65 L300.50,499.50 L302.00,499.50 L303.50,497.23 L305.00,499.46 L306.50,499.25 L308.00,497.27 L309.50,499.50 L311.00,498.12 L312.50,499.50 L314.00,499.00" fill="none" stroke="#a00000" stroke-width="1.35" stroke-linejoin="round"/>
<path d="M62.00,499.30 L63.51,498.07 L65.02,498.70 L66.53,498.12 L68.05,499.42 L69.56,498.45 L71.07,498.58 L72.58,499.50 L74.09,499.50 L75.60,497.47 L77.11,499.50 L78.62,499.20 L80.14,499.50 L81.65,499.20 L83.16,497.40 L84.67,499.25 L86.18,497.24 L87.69,499.50 L89.20,497.32 L90.72,497.13 L92.23,499.13 L93.74,497.27 L95.25,499.50 L96.76,497.15 L98.27,497.84 L99.78,499.50 L101.30,497.59 L102.81,499.43 L104.32,497.17 L105.83,499.03 L107.34,497.01 L108.85,497.44 L110.36,499.41 L111.88,497.42 L113.39,499.11 L114.90,497.06 L116.41,498.87 L117.92,498.38 L119.43,496.20 L120.94,497.52 L122.45,498.79 L123.97,496.43 L125.48,496.59 L126.99,497.98 L128.50,497.50 L129.97,496.82 L131.44,497.37 L132.91,497.56 L134.39,497.85 L135.86,496.25 L137.33,496.02 L138.80,495.40 L140.25,496.77 L141.70,494.35 L143.15,495.35 L144.60,494.36 L146.05,495.40 L147.50,494.03 L148.95,493.59 L150.40,495.41 L151.85,493.30 L153.30,494.20 L154.76,495.65 L156.22,494.09 L157.68,492.67 L159.14,493.08 L160.60,492.50 L162.07,493.91 L163.53,491.24 L165.00,493.20 L166.70,492.10 L168.25,492.31 L169.80,491.26 L171.35,488.02 L172.90,487.90 L174.47,485.37 L176.05,487.32 L177.62,484.25 L179.20,484.80 L180.75,484.69 L182.30,481.44 L183.85,481.21 L185.40,481.70 L186.97,481.57 L188.55,477.13 L190.12,477.91 L191.70,475.40 L192.95,476.78 L194.20,473.30 L195.93,467.11 L197.67,466.80 L199.40,461.90 L200.95,455.69 L202.50,454.60 L204.05,450.37 L205.60,442.10 L207.70,445.20 L209.80,430.60 L211.90,417.10 L214.00,406.70 L216.00,396.30 L218.20,390.00 L220.40,378.40 L221.90,377.76 L223.40,369.60 L225.50,350.70 L227.00,362.30 L228.50,346.30 L230.70,339.70 L232.40,350.70 L234.10,344.21 L235.80,335.30 L237.25,342.72 L238.70,339.00 L240.10,347.70 L241.57,343.27 L243.03,344.33 L244.50,345.50 L246.70,353.60 L248.15,358.58 L249.60,352.80 L251.10,363.80 L253.30,376.90 L254.60,386.80 L255.50,382.80 L256.95,391.99 L258.40,395.90 L260.30,402.80 L262.00,406.76 L263.70,416.50 L265.30,422.42 L266.90,420.96 L268.50,429.82 L270.10,431.28 L271.70,432.40 L273.06,432.31 L274.42,442.04 L275.78,442.53 L277.14,446.61 L278.50,448.40 L280.03,449.16 L281.57,454.11 L283.10,455.20 L284.56,455.90 L286.01,460.24 L287.47,459.78 L288.93,464.46 L290.39,461.77 L291.84,466.19 L293.30,468.90 L295.00,473.81 L296.70,475.80 L298.30,474.98 L299.90,478.86 L301.50,475.46 L303.10,479.15 L304.70,478.00 L306.40,478.73 L308.10,483.70 L309.63,480.17 L311.17,483.11 L312.70,480.30 L314.00,483.00" fill="none" stroke="#000080" stroke-width="1.35" stroke-linejoin="round"/>
<line x1="61.80" y1="330.60" x2="61.80" y2="500.50" stroke="#000" stroke-width="2.2" />
<line x1="60.70" y1="499.50" x2="314.20" y2="499.50" stroke="#000" stroke-width="2.2" />
<line x1="58.00" y1="499.50" x2="61.80" y2="499.50" stroke="#000" stroke-width="2" />
<text x="56.00" y="507.30" font-size="20" text-anchor="end" font-weight="normal" >0</text>
<line x1="58.00" y1="443.53" x2="61.80" y2="443.53" stroke="#000" stroke-width="2" />
<text x="56.00" y="451.33" font-size="20" text-anchor="end" font-weight="normal" >200</text>
<line x1="58.00" y1="387.57" x2="61.80" y2="387.57" stroke="#000" stroke-width="2" />
<text x="56.00" y="395.37" font-size="20" text-anchor="end" font-weight="normal" >400</text>
<line x1="58.00" y1="331.60" x2="61.80" y2="331.60" stroke="#000" stroke-width="2" />
<text x="56.00" y="339.40" font-size="20" text-anchor="end" font-weight="normal" >600</text>
<line x1="61.73" y1="499.50" x2="61.73" y2="503.30" stroke="#000" stroke-width="2" />
<line x1="71.03" y1="499.50" x2="71.03" y2="503.30" stroke="#000" stroke-width="2" />
<line x1="78.90" y1="499.50" x2="78.90" y2="503.30" stroke="#000" stroke-width="2" />
<line x1="85.71" y1="499.50" x2="85.71" y2="503.30" stroke="#000" stroke-width="2" />
<line x1="91.72" y1="499.50" x2="91.72" y2="503.30" stroke="#000" stroke-width="2" />
<line x1="97.10" y1="499.50" x2="97.10" y2="503.30" stroke="#000" stroke-width="2" />
<line x1="132.47" y1="499.50" x2="132.47" y2="503.30" stroke="#000" stroke-width="2" />
<line x1="153.16" y1="499.50" x2="153.16" y2="503.30" stroke="#000" stroke-width="2" />
<line x1="167.84" y1="499.50" x2="167.84" y2="503.30" stroke="#000" stroke-width="2" />
<line x1="179.23" y1="499.50" x2="179.23" y2="503.30" stroke="#000" stroke-width="2" />
<line x1="188.53" y1="499.50" x2="188.53" y2="503.30" stroke="#000" stroke-width="2" />
<line x1="196.40" y1="499.50" x2="196.40" y2="503.30" stroke="#000" stroke-width="2" />
<line x1="203.21" y1="499.50" x2="203.21" y2="503.30" stroke="#000" stroke-width="2" />
<line x1="209.22" y1="499.50" x2="209.22" y2="503.30" stroke="#000" stroke-width="2" />
<line x1="214.60" y1="499.50" x2="214.60" y2="503.30" stroke="#000" stroke-width="2" />
<line x1="249.97" y1="499.50" x2="249.97" y2="503.30" stroke="#000" stroke-width="2" />
<line x1="270.66" y1="499.50" x2="270.66" y2="503.30" stroke="#000" stroke-width="2" />
<line x1="285.34" y1="499.50" x2="285.34" y2="503.30" stroke="#000" stroke-width="2" />
<line x1="296.73" y1="499.50" x2="296.73" y2="503.30" stroke="#000" stroke-width="2" />
<line x1="306.03" y1="499.50" x2="306.03" y2="503.30" stroke="#000" stroke-width="2" />
<line x1="313.90" y1="499.50" x2="313.90" y2="503.30" stroke="#000" stroke-width="2" />
<text x="97.10" y="521.00" font-size="20" text-anchor="middle" font-weight="normal" >1000</text>
<text x="214.60" y="521.00" font-size="20" text-anchor="middle" font-weight="normal" >10000</text>
<text x="189.00" y="541.50" font-size="20.4" text-anchor="middle" font-weight="normal" >F.I. (A.U.)</text>
<text x="187.70" y="324.90" font-size="20" text-anchor="middle" font-weight="normal" >HY-101</text>
<text x="0" y="0" font-size="19.5" text-anchor="middle" transform="translate(15.6,416.30) rotate(-90)">Count</text>
<rect x="74.9" y="341.80" width="26.00" height="17.60" fill="#c8c8c8" stroke="#333" stroke-width="1.3"/>
<rect x="74.9" y="359.40" width="26.00" height="17.30" fill="#cdd0ee" stroke="#333" stroke-width="1.3"/>
<rect x="74.9" y="376.70" width="26.00" height="16.90" fill="#e8cfd0" stroke="#333" stroke-width="1.3"/>
<text x="103.50" y="356.80" font-size="14.6" text-anchor="start" font-weight="normal" >Isotype</text>
<text x="103.50" y="372.60" font-size="14.6" text-anchor="start" font-weight="normal" >Cit 0 <tspan font-family="Liberation Serif">&#956;</tspan>M</text>
<text x="103.50" y="390.20" font-size="14.6" text-anchor="start" font-weight="normal" >Cit 200 <tspan font-family="Liberation Serif">&#956;</tspan>M</text>
<line x1="314.20" y1="483.00" x2="314.20" y2="499.50" stroke="#000080" stroke-width="1.5" />
<rect x="424.40" y="165.00" width="233.60" height="44.60" fill="#dcdcdc"/>
<line x1="423.00" y1="187.50" x2="658.00" y2="187.50" stroke="#000" stroke-width="2.7" stroke-dasharray="9.2 9.57"/>
<line x1="423.20" y1="33.60" x2="423.20" y2="219.30" stroke="#000" stroke-width="2.2" />
<line x1="422.10" y1="218.20" x2="449.00" y2="218.20" stroke="#000" stroke-width="2.2" />
<line x1="463.80" y1="218.20" x2="658.00" y2="218.20" stroke="#000" stroke-width="2.2" />
<line x1="447.90" y1="221.20" x2="452.60" y2="213.30" stroke="#000" stroke-width="1.8" />
<line x1="461.10" y1="221.70" x2="466.40" y2="213.60" stroke="#000" stroke-width="1.8" />
<line x1="419.20" y1="180.00" x2="423.20" y2="180.00" stroke="#000" stroke-width="2" />
<text x="417.00" y="187.40" font-size="20" text-anchor="end" font-weight="normal" >2000</text>
<line x1="419.20" y1="131.30" x2="423.20" y2="131.30" stroke="#000" stroke-width="2" />
<text x="417.00" y="138.70" font-size="20" text-anchor="end" font-weight="normal" >3000</text>
<line x1="419.20" y1="82.60" x2="423.20" y2="82.60" stroke="#000" stroke-width="2" />
<text x="417.00" y="90.00" font-size="20" text-anchor="end" font-weight="normal" >4000</text>
<line x1="484.30" y1="218.20" x2="484.30" y2="222.00" stroke="#000" stroke-width="2" />
<line x1="519.82" y1="218.20" x2="519.82" y2="222.00" stroke="#000" stroke-width="2" />
<line x1="540.60" y1="218.20" x2="540.60" y2="222.00" stroke="#000" stroke-width="2" />
<line x1="555.34" y1="218.20" x2="555.34" y2="222.00" stroke="#000" stroke-width="2" />
<line x1="566.78" y1="218.20" x2="566.78" y2="222.00" stroke="#000" stroke-width="2" />
<line x1="576.12" y1="218.20" x2="576.12" y2="222.00" stroke="#000" stroke-width="2" />
<line x1="584.02" y1="218.20" x2="584.02" y2="222.00" stroke="#000" stroke-width="2" />
<line x1="590.86" y1="218.20" x2="590.86" y2="222.00" stroke="#000" stroke-width="2" />
<line x1="596.90" y1="218.20" x2="596.90" y2="222.00" stroke="#000" stroke-width="2" />
<line x1="602.30" y1="218.20" x2="602.30" y2="222.00" stroke="#000" stroke-width="2" />
<line x1="637.82" y1="218.20" x2="637.82" y2="222.00" stroke="#000" stroke-width="2" />
<line x1="437.30" y1="218.20" x2="437.30" y2="222.00" stroke="#000" stroke-width="2" />
<text x="437.30" y="240.00" font-size="20" text-anchor="middle" font-weight="normal" >0</text>
<text x="484.30" y="240.00" font-size="20" text-anchor="middle" font-weight="normal" >10</text>
<text x="602.30" y="240.00" font-size="20" text-anchor="middle" font-weight="normal" >100</text>
<text x="540.60" y="261.50" font-size="20" text-anchor="middle" font-weight="normal" >[Citalopram] (<tspan font-family="Liberation Serif">&#956;</tspan>M)</text>
<text x="540.60" y="27.60" font-size="20" text-anchor="middle" font-weight="normal" >204-11 Fab</text>
<path d="M458.12,86.20 L459.30,86.20 L460.48,86.20 L461.66,86.20 L462.84,86.20 L464.02,86.20 L465.20,86.20 L466.38,86.20 L467.56,86.20 L468.74,86.20 L469.92,86.20 L471.10,86.20 L472.28,86.20 L473.46,86.20 L474.64,86.20 L475.82,86.20 L477.00,86.20 L478.18,86.20 L479.36,86.20 L480.54,86.21 L481.72,86.21 L482.90,86.21 L484.08,86.21 L485.26,86.21 L486.44,86.21 L487.62,86.21 L488.80,86.21 L489.98,86.21 L491.16,86.21 L492.34,86.22 L493.52,86.22 L494.70,86.22 L495.88,86.22 L497.06,86.23 L498.24,86.23 L499.42,86.23 L500.60,86.24 L501.78,86.24 L502.96,86.25 L504.14,86.25 L505.32,86.26 L506.50,86.26 L507.68,86.27 L508.86,86.28 L510.04,86.29 L511.22,86.30 L512.40,86.31 L513.58,86.33 L514.76,86.34 L515.94,86.36 L517.12,86.38 L518.30,86.40 L519.48,86.42 L520.66,86.45 L521.84,86.48 L523.02,86.51 L524.20,86.55 L525.38,86.59 L526.56,86.64 L527.74,86.69 L528.92,86.75 L530.10,86.82 L531.28,86.89 L532.46,86.97 L533.64,87.07 L534.82,87.17 L536.00,87.28 L537.18,87.41 L538.36,87.56 L539.54,87.72 L540.72,87.90 L541.90,88.10 L543.08,88.32 L544.26,88.57 L545.44,88.85 L546.62,89.16 L547.80,89.50 L548.98,89.89 L550.16,90.31 L551.34,90.78 L552.52,91.31 L553.70,91.89 L554.88,92.53 L556.06,93.24 L557.24,94.02 L558.42,94.88 L559.60,95.82 L560.78,96.86 L561.96,97.99 L563.14,99.22 L564.32,100.57 L565.50,102.03 L566.68,103.60 L567.86,105.30 L569.04,107.12 L570.22,109.07 L571.40,111.14 L572.58,113.33 L573.76,115.65 L574.94,118.07 L576.12,120.60 L577.30,123.22 L578.48,125.92 L579.66,128.69 L580.84,131.51 L582.02,134.36 L583.20,137.23 L584.38,140.09 L585.56,142.94 L586.74,145.74 L587.92,148.48 L589.10,151.16 L590.28,153.75 L591.46,156.24 L592.64,158.62 L593.82,160.89 L595.00,163.04 L596.18,165.07 L597.36,166.97 L598.54,168.74 L599.72,170.40 L600.90,171.93 L602.08,173.34 L603.26,174.65 L604.44,175.84 L605.62,176.94 L606.80,177.94 L607.98,178.85 L609.16,179.68 L610.34,180.44 L611.52,181.12 L612.70,181.74 L613.88,182.29 L615.06,182.80 L616.24,183.25 L617.42,183.66 L618.60,184.03 L619.78,184.36 L620.96,184.66 L622.14,184.92 L623.32,185.16 L624.50,185.38 L625.68,185.57 L626.86,185.74 L628.04,185.90 L629.22,186.04 L630.40,186.16 L631.58,186.27 L632.76,186.37 L633.94,186.46 L635.12,186.54 L636.30,186.61 L637.48,186.67 L638.66,186.73 L639.84,186.78 L641.02,186.82 L642.20,186.86 L643.38,186.90 L644.56,186.93 L645.74,186.96 L646.92,186.99 L648.10,187.01 L649.28,187.03 L650.46,187.05 L651.64,187.06 L652.82,187.08 L654.00,187.09 L655.18,187.10 L656.36,187.11 L657.54,187.12" fill="none" stroke="#000" stroke-width="2.2"/>
<line x1="437.30" y1="42.60" x2="437.30" y2="106.80" stroke="#000" stroke-width="2.2" />
<line x1="431.30" y1="42.60" x2="443.30" y2="42.60" stroke="#000" stroke-width="2.2" />
<line x1="431.30" y1="106.80" x2="443.30" y2="106.80" stroke="#000" stroke-width="2.2" />
<rect x="431.90" y="69.50" width="10.8" height="10.8" fill="#000"/>
<line x1="484.30" y1="67.50" x2="484.30" y2="115.90" stroke="#000" stroke-width="2.2" />
<line x1="478.30" y1="67.50" x2="490.30" y2="67.50" stroke="#000" stroke-width="2.2" />
<line x1="478.30" y1="115.90" x2="490.30" y2="115.90" stroke="#000" stroke-width="2.2" />
<rect x="478.90" y="86.80" width="10.8" height="10.8" fill="#000"/>
<line x1="519.82" y1="74.50" x2="519.82" y2="123.90" stroke="#000" stroke-width="2.2" />
<line x1="513.82" y1="74.50" x2="525.82" y2="74.50" stroke="#000" stroke-width="2.2" />
<line x1="513.82" y1="123.90" x2="525.82" y2="123.90" stroke="#000" stroke-width="2.2" />
<rect x="514.42" y="94.30" width="10.8" height="10.8" fill="#000"/>
<line x1="566.78" y1="89.50" x2="566.78" y2="141.30" stroke="#000" stroke-width="2.2" />
<line x1="560.78" y1="89.50" x2="572.78" y2="89.50" stroke="#000" stroke-width="2.2" />
<line x1="560.78" y1="141.30" x2="572.78" y2="141.30" stroke="#000" stroke-width="2.2" />
<rect x="561.38" y="109.90" width="10.8" height="10.8" fill="#000"/>
<line x1="602.30" y1="141.30" x2="602.30" y2="179.50" stroke="#000" stroke-width="2.2" />
<line x1="596.30" y1="141.30" x2="608.30" y2="141.30" stroke="#000" stroke-width="2.2" />
<line x1="596.30" y1="179.50" x2="608.30" y2="179.50" stroke="#000" stroke-width="2.2" />
<rect x="596.90" y="154.90" width="10.8" height="10.8" fill="#000"/>
<line x1="637.82" y1="177.40" x2="637.82" y2="205.90" stroke="#000" stroke-width="2.2" />
<line x1="631.82" y1="177.40" x2="643.82" y2="177.40" stroke="#000" stroke-width="2.2" />
<line x1="631.82" y1="205.90" x2="643.82" y2="205.90" stroke="#000" stroke-width="2.2" />
<rect x="632.42" y="185.60" width="10.8" height="10.8" fill="#000"/>
<rect x="434.90" y="485.00" width="223.10" height="6.80" fill="#dcdcdc"/>
<line x1="433.50" y1="488.10" x2="658.00" y2="488.10" stroke="#000" stroke-width="2.7" stroke-dasharray="9.2 9.57"/>
<line x1="433.70" y1="315.40" x2="433.70" y2="500.80" stroke="#000" stroke-width="2.2" />
<line x1="432.60" y1="499.70" x2="455.50" y2="499.70" stroke="#000" stroke-width="2.2" />
<line x1="470.90" y1="499.70" x2="658.00" y2="499.70" stroke="#000" stroke-width="2.2" />
<line x1="452.70" y1="503.60" x2="458.20" y2="496.40" stroke="#000" stroke-width="1.8" />
<line x1="465.50" y1="504.50" x2="471.80" y2="496.40" stroke="#000" stroke-width="1.8" />
<line x1="429.70" y1="453.75" x2="433.70" y2="453.75" stroke="#000" stroke-width="2" />
<text x="427.50" y="461.15" font-size="20" text-anchor="end" font-weight="normal" >5000</text>
<line x1="429.70" y1="406.50" x2="433.70" y2="406.50" stroke="#000" stroke-width="2" />
<text x="427.50" y="413.90" font-size="20" text-anchor="end" font-weight="normal" >10000</text>
<line x1="429.70" y1="359.25" x2="433.70" y2="359.25" stroke="#000" stroke-width="2" />
<text x="427.50" y="366.65" font-size="20" text-anchor="end" font-weight="normal" >15000</text>
<line x1="482.00" y1="499.70" x2="482.00" y2="503.50" stroke="#000" stroke-width="2" />
<line x1="509.88" y1="499.70" x2="509.88" y2="503.50" stroke="#000" stroke-width="2" />
<line x1="526.18" y1="499.70" x2="526.18" y2="503.50" stroke="#000" stroke-width="2" />
<line x1="537.75" y1="499.70" x2="537.75" y2="503.50" stroke="#000" stroke-width="2" />
<line x1="546.72" y1="499.70" x2="546.72" y2="503.50" stroke="#000" stroke-width="2" />
<line x1="554.06" y1="499.70" x2="554.06" y2="503.50" stroke="#000" stroke-width="2" />
<line x1="560.26" y1="499.70" x2="560.26" y2="503.50" stroke="#000" stroke-width="2" />
<line x1="565.63" y1="499.70" x2="565.63" y2="503.50" stroke="#000" stroke-width="2" />
<line x1="570.36" y1="499.70" x2="570.36" y2="503.50" stroke="#000" stroke-width="2" />
<line x1="574.60" y1="499.70" x2="574.60" y2="503.50" stroke="#000" stroke-width="2" />
<line x1="602.48" y1="499.70" x2="602.48" y2="503.50" stroke="#000" stroke-width="2" />
<line x1="618.78" y1="499.70" x2="618.78" y2="503.50" stroke="#000" stroke-width="2" />
<line x1="630.35" y1="499.70" x2="630.35" y2="503.50" stroke="#000" stroke-width="2" />
<line x1="639.32" y1="499.70" x2="639.32" y2="503.50" stroke="#000" stroke-width="2" />
<line x1="646.66" y1="499.70" x2="646.66" y2="503.50" stroke="#000" stroke-width="2" />
<line x1="652.86" y1="499.70" x2="652.86" y2="503.50" stroke="#000" stroke-width="2" />
<line x1="445.10" y1="499.70" x2="445.10" y2="503.50" stroke="#000" stroke-width="2" />
<text x="445.10" y="521.50" font-size="20" text-anchor="middle" font-weight="normal" >0</text>
<text x="482.00" y="521.50" font-size="20" text-anchor="middle" font-weight="normal" >10</text>
<text x="574.60" y="521.50" font-size="20" text-anchor="middle" font-weight="normal" >100</text>
<text x="545.85" y="543.00" font-size="20" text-anchor="middle" font-weight="normal" >[Citalopram] (<tspan font-family="Liberation Serif">&#956;</tspan>M)</text>
<text x="545.85" y="309.10" font-size="20" text-anchor="middle" font-weight="normal" >HY-101</text>
<path d="M461.46,337.89 L462.38,337.96 L463.31,338.05 L464.23,338.13 L465.16,338.21 L466.09,338.30 L467.01,338.39 L467.94,338.49 L468.86,338.58 L469.79,338.68 L470.72,338.79 L471.64,338.89 L472.57,339.00 L473.49,339.11 L474.42,339.23 L475.35,339.35 L476.27,339.47 L477.20,339.60 L478.12,339.73 L479.05,339.86 L479.98,340.00 L480.90,340.14 L481.83,340.29 L482.75,340.44 L483.68,340.60 L484.61,340.76 L485.53,340.92 L486.46,341.09 L487.38,341.27 L488.31,341.45 L489.24,341.63 L490.16,341.82 L491.09,342.02 L492.01,342.22 L492.94,342.43 L493.87,342.64 L494.79,342.86 L495.72,343.09 L496.64,343.32 L497.57,343.56 L498.50,343.81 L499.42,344.06 L500.35,344.32 L501.27,344.59 L502.20,344.87 L503.13,345.15 L504.05,345.44 L504.98,345.74 L505.90,346.05 L506.83,346.36 L507.76,346.69 L508.68,347.02 L509.61,347.37 L510.53,347.72 L511.46,348.08 L512.39,348.45 L513.31,348.83 L514.24,349.22 L515.16,349.62 L516.09,350.04 L517.02,350.46 L517.94,350.89 L518.87,351.33 L519.79,351.79 L520.72,352.26 L521.65,352.74 L522.57,353.23 L523.50,353.73 L524.42,354.24 L525.35,354.77 L526.28,355.31 L527.20,355.86 L528.13,356.43 L529.05,357.01 L529.98,357.60 L530.91,358.20 L531.83,358.82 L532.76,359.45 L533.68,360.10 L534.61,360.76 L535.54,361.43 L536.46,362.12 L537.39,362.83 L538.31,363.54 L539.24,364.28 L540.17,365.02 L541.09,365.79 L542.02,366.56 L542.94,367.35 L543.87,368.16 L544.80,368.98 L545.72,369.81 L546.65,370.66 L547.57,371.53 L548.50,372.41 L549.43,373.30 L550.35,374.21 L551.28,375.13 L552.20,376.07 L553.13,377.02 L554.06,377.99 L554.98,378.97 L555.91,379.96 L556.83,380.97 L557.76,381.99 L558.69,383.02 L559.61,384.07 L560.54,385.12 L561.46,386.19 L562.39,387.28 L563.32,388.37 L564.24,389.47 L565.17,390.59 L566.09,391.71 L567.02,392.85 L567.95,393.99 L568.87,395.14 L569.80,396.31 L570.72,397.48 L571.65,398.65 L572.58,399.84 L573.50,401.03 L574.43,402.22 L575.35,403.42 L576.28,404.63 L577.21,405.84 L578.13,407.05 L579.06,408.27 L579.98,409.49 L580.91,410.71 L581.84,411.93 L582.76,413.16 L583.69,414.38 L584.61,415.60 L585.54,416.82 L586.47,418.04 L587.39,419.26 L588.32,420.48 L589.24,421.69 L590.17,422.89 L591.10,424.09 L592.02,425.29 L592.95,426.48 L593.87,427.67 L594.80,428.84 L595.73,430.01 L596.65,431.17 L597.58,432.33 L598.50,433.47 L599.43,434.61 L600.36,435.73 L601.28,436.85 L602.21,437.95 L603.13,439.05 L604.06,440.13 L604.99,441.20 L605.91,442.26 L606.84,443.31 L607.76,444.34 L608.69,445.36 L609.62,446.37 L610.54,447.36 L611.47,448.34 L612.39,449.31 L613.32,450.26 L614.25,451.20 L615.17,452.12 L616.10,453.03 L617.02,453.93 L617.95,454.81 L618.88,455.68 L619.80,456.53 L620.73,457.36 L621.65,458.19 L622.58,458.99 L623.51,459.78 L624.43,460.56 L625.36,461.32 L626.28,462.07 L627.21,462.80 L628.14,463.52 L629.06,464.23 L629.99,464.92 L630.91,465.59 L631.84,466.25 L632.77,466.90 L633.69,467.54 L634.62,468.16 L635.54,468.76 L636.47,469.35 L637.40,469.93 L638.32,470.50 L639.25,471.05 L640.17,471.59 L641.10,472.12 L642.03,472.64 L642.95,473.14 L643.88,473.63 L644.80,474.11 L645.73,474.58 L646.66,475.03 L647.58,475.48 L648.51,475.91 L649.43,476.34 L650.36,476.75 L651.29,477.15 L652.21,477.54 L653.14,477.92 L654.06,478.29 L654.99,478.66 L655.92,479.01 L656.84,479.35 L657.77,479.69" fill="none" stroke="#000" stroke-width="2.2"/>
<line x1="445.10" y1="324.50" x2="445.10" y2="352.30" stroke="#000" stroke-width="2.2" />
<line x1="440.50" y1="324.50" x2="449.70" y2="324.50" stroke="#000" stroke-width="2.2" />
<line x1="440.50" y1="352.30" x2="449.70" y2="352.30" stroke="#000" stroke-width="2.2" />
<rect x="439.70" y="333.20" width="10.8" height="10.8" fill="#000"/>
<line x1="482.00" y1="326.80" x2="482.00" y2="352.90" stroke="#000" stroke-width="2.2" />
<line x1="477.40" y1="326.80" x2="486.60" y2="326.80" stroke="#000" stroke-width="2.2" />
<line x1="477.40" y1="352.90" x2="486.60" y2="352.90" stroke="#000" stroke-width="2.2" />
<rect x="476.60" y="334.70" width="10.8" height="10.8" fill="#000"/>
<line x1="509.88" y1="333.70" x2="509.88" y2="358.80" stroke="#000" stroke-width="2.2" />
<line x1="505.28" y1="333.70" x2="514.48" y2="333.70" stroke="#000" stroke-width="2.2" />
<line x1="505.28" y1="358.80" x2="514.48" y2="358.80" stroke="#000" stroke-width="2.2" />
<rect x="504.48" y="340.60" width="10.8" height="10.8" fill="#000"/>
<line x1="546.72" y1="363.90" x2="546.72" y2="384.80" stroke="#000" stroke-width="2.2" />
<line x1="542.12" y1="363.90" x2="551.32" y2="363.90" stroke="#000" stroke-width="2.2" />
<line x1="542.12" y1="384.80" x2="551.32" y2="384.80" stroke="#000" stroke-width="2.2" />
<rect x="541.32" y="368.70" width="10.8" height="10.8" fill="#000"/>
<line x1="574.60" y1="395.30" x2="574.60" y2="413.80" stroke="#000" stroke-width="2.2" />
<line x1="570.00" y1="395.30" x2="579.20" y2="395.30" stroke="#000" stroke-width="2.2" />
<line x1="570.00" y1="413.80" x2="579.20" y2="413.80" stroke="#000" stroke-width="2.2" />
<rect x="569.20" y="398.90" width="10.8" height="10.8" fill="#000"/>
<line x1="602.48" y1="427.70" x2="602.48" y2="443.50" stroke="#000" stroke-width="2.2" />
<line x1="597.88" y1="427.70" x2="607.08" y2="427.70" stroke="#000" stroke-width="2.2" />
<line x1="597.88" y1="443.50" x2="607.08" y2="443.50" stroke="#000" stroke-width="2.2" />
<rect x="597.08" y="430.40" width="10.8" height="10.8" fill="#000"/>
<text x="0" y="0" font-size="22.1" text-anchor="middle" transform="translate(346.9,127.30) rotate(-90)">M.F.I. (A.U.)</text>
<text x="0" y="0" font-size="14.7" text-anchor="middle" transform="translate(367.2,127.65) rotate(-90)">[mean &#177; SEM, N = 6]</text>
<text x="0" y="0" font-size="22.1" text-anchor="middle" transform="translate(346.9,407.30) rotate(-90)">M.F.I. (A.U.)</text>
<text x="0" y="0" font-size="14.7" text-anchor="middle" transform="translate(367.2,407.65) rotate(-90)">[mean &#177; SEM, N = 6]</text>
<rect x="82.97" y="237.71" width="4.26" height="2.99" fill="#fff"/>
<rect x="89.10" y="237.71" width="4.10" height="2.99" fill="#fff"/>
<rect x="219.91" y="237.71" width="4.26" height="2.99" fill="#fff"/>
<rect x="226.03" y="237.71" width="4.10" height="2.99" fill="#fff"/>
<rect x="178.03" y="41.91" width="4.26" height="2.99" fill="#fff"/>
<rect x="184.16" y="41.91" width="4.10" height="2.99" fill="#fff"/>
<rect x="187.67" y="41.91" width="4.26" height="2.99" fill="#fff"/>
<rect x="193.80" y="41.91" width="4.10" height="2.99" fill="#fff"/>
<rect x="75.57" y="518.61" width="4.26" height="2.99" fill="#fff"/>
<rect x="81.70" y="518.61" width="4.10" height="2.99" fill="#fff"/>
<rect x="187.51" y="518.61" width="4.26" height="2.99" fill="#fff"/>
<rect x="193.63" y="518.61" width="4.10" height="2.99" fill="#fff"/>
<rect x="188.02" y="322.51" width="4.26" height="2.99" fill="#fff"/>
<rect x="194.15" y="322.51" width="4.10" height="2.99" fill="#fff"/>
<rect x="210.27" y="322.51" width="4.26" height="2.99" fill="#fff"/>
<rect x="216.40" y="322.51" width="4.10" height="2.99" fill="#fff"/>
<rect x="473.90" y="237.61" width="4.26" height="2.99" fill="#fff"/>
<rect x="480.02" y="237.61" width="4.10" height="2.99" fill="#fff"/>
<rect x="586.34" y="237.61" width="4.26" height="2.99" fill="#fff"/>
<rect x="592.46" y="237.61" width="4.10" height="2.99" fill="#fff"/>
<rect x="530.93" y="25.21" width="4.26" height="2.99" fill="#fff"/>
<rect x="537.06" y="25.21" width="4.10" height="2.99" fill="#fff"/>
<rect x="540.57" y="25.21" width="4.26" height="2.99" fill="#fff"/>
<rect x="546.70" y="25.21" width="4.10" height="2.99" fill="#fff"/>
<rect x="372.60" y="411.51" width="4.26" height="2.99" fill="#fff"/>
<rect x="378.72" y="411.51" width="4.10" height="2.99" fill="#fff"/>
<rect x="372.60" y="364.26" width="4.26" height="2.99" fill="#fff"/>
<rect x="378.72" y="364.26" width="4.10" height="2.99" fill="#fff"/>
<rect x="471.60" y="519.11" width="4.26" height="2.99" fill="#fff"/>
<rect x="477.72" y="519.11" width="4.10" height="2.99" fill="#fff"/>
<rect x="558.64" y="519.11" width="4.26" height="2.99" fill="#fff"/>
<rect x="564.76" y="519.11" width="4.10" height="2.99" fill="#fff"/>
<rect x="546.17" y="306.71" width="4.26" height="2.99" fill="#fff"/>
<rect x="552.30" y="306.71" width="4.10" height="2.99" fill="#fff"/>
<rect x="568.42" y="306.71" width="4.26" height="2.99" fill="#fff"/>
<rect x="574.55" y="306.71" width="4.10" height="2.99" fill="#fff"/>
</svg></body></html>
